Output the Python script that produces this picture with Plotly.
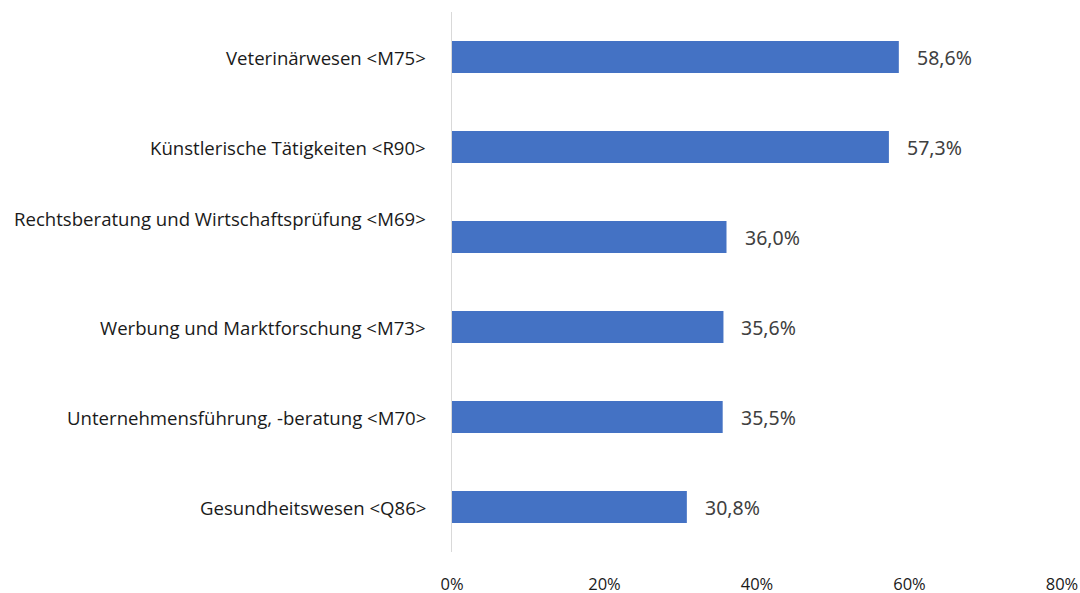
import plotly.graph_objects as go

categories = [
    "Veterinärwesen <M75>",
    "Künstlerische Tätigkeiten <R90>",
    "Rechtsberatung und Wirtschaftsprüfung <M69>",
    "Werbung und Marktforschung <M73>",
    "Unternehmensführung, -beratung <M70>",
    "Gesundheitswesen <Q86>",
]
values = [58.6, 57.3, 36.0, 35.6, 35.5, 30.8]
value_labels = ["58,6%", "57,3%", "36,0%", "35,6%", "35,5%", "30,8%"]
x_ticks = [0, 20, 40, 60, 80]
x_tick_labels = ["0%", "20%", "40%", "60%", "80%"]
label_shift = [0, 0, 19, 0, 0, 0]

fig = go.Figure(go.Bar(
    x=values, y=categories, orientation="h",
    marker=dict(color="#4472C4", line=dict(width=0)),
    width=0.355, hoverinfo="skip",
))

for c, v, t in zip(categories, values, value_labels):
    fig.add_annotation(x=v, y=c, xref="x", yref="y", text=t, showarrow=False,
                       xanchor="left", xshift=16,
                       font=dict(family="Noto Sans", size=19.5, color="#404040"))

for c, s in zip(categories, label_shift):
    fig.add_annotation(x=0, y=c, xref="paper", yref="y", text=c, showarrow=False,
                       xanchor="right", xshift=-24, yshift=s,
                       font=dict(family="Open Sans", size=18.6, color="#1a1a1a"))

fig.update_layout(
    width=1080, height=593,
    margin=dict(l=452, r=18, t=12, b=41),
    plot_bgcolor="white", paper_bgcolor="white",
    showlegend=False,
    xaxis=dict(range=[0, 80], tickvals=x_ticks, ticktext=x_tick_labels,
               showgrid=False, zeroline=False, showline=False,
               ticks="", ticklabelstandoff=20, automargin=False,
               tickfont=dict(family="Open Sans", size=16.5, color="#1a1a1a"),
               fixedrange=True),
    yaxis=dict(categoryorder="array", categoryarray=categories[::-1],
               showticklabels=False, showgrid=False, zeroline=False,
               showline=True, linecolor="#d9d9d9", linewidth=1.5,
               ticks="", automargin=False, fixedrange=True),
)

fig.write_html(
    "out.html",
    config={"displayModeBar": False, "staticPlot": True},
    post_script="document.body.style.margin='0';document.body.style.overflow='hidden';",
)
